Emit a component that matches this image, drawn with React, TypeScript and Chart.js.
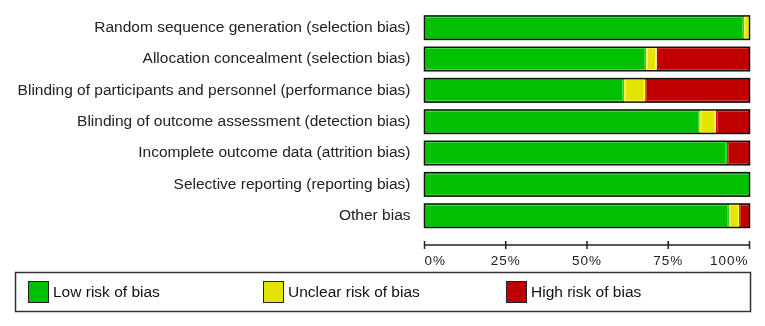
import React, { useEffect, useRef } from "react";
import { Chart, registerables } from "chart.js";

Chart.register(...registerables);

const categories = [
  "Random sequence generation (selection bias)",
  "Allocation concealment (selection bias)",
  "Blinding of participants and personnel (performance bias)",
  "Blinding of outcome assessment (detection bias)",
  "Incomplete outcome data (attrition bias)",
  "Selective reporting (reporting bias)",
  "Other bias",
];

const lowRisk = [98.3, 68.2, 61.4, 84.7, 93.1, 100, 93.7];
const unclearRisk = [1.7, 3.2, 6.5, 5.0, 0, 0, 3.1];
const highRisk = [0, 28.6, 32.1, 10.3, 6.9, 0, 3.2];

const seriesNames = ["Low risk of bias", "Unclear risk of bias", "High risk of bias"];
const tickValues = [0, 25, 50, 75, 100];
const tickLabels = ["0%", "25%", "50%", "75%", "100%"];

const FILL = ["rgb(0,192,0)", "rgb(228,228,0)", "rgb(192,0,0)"];
const EDGE = ["rgb(40,215,40)", "rgb(250,250,60)", "rgb(200,10,10)"];
const FONT = "Liberation Sans, Arial, sans-serif";

const nz = (a: number[]) => a.map((v) => (v === 0 ? null : v));

const customPlugin = {
  id: "robCustom",
  afterDatasetsDraw(chart: any) {
    const ctx = chart.ctx;
    const n = chart.data.labels.length;
    const metas = chart.data.datasets.map((_: any, i: number) => chart.getDatasetMeta(i));
    ctx.save();
    ctx.strokeStyle = "#111";
    ctx.lineWidth = 1.5;
    for (let i = 0; i < n; i++) {
      let left = Infinity, right = -Infinity, top = 0, h = 0;
      metas.forEach((m: any) => {
        const el = m.data[i];
        if (!el || el.skip) return;
        const p = el.getProps(["x", "y", "base", "height"], true);
        if (p.x == null || isNaN(p.x)) return;
        left = Math.min(left, p.base, p.x);
        right = Math.max(right, p.base, p.x);
        top = p.y - p.height / 2;
        h = p.height;
      });
      if (isFinite(left)) ctx.strokeRect(left, top, right - left, h);
    }
    ctx.restore();
  },
  afterDraw(chart: any) {
    const ctx = chart.ctx;
    const xs = chart.scales.x;
    const axisY = 245;
    ctx.save();
    ctx.strokeStyle = "#222";
    ctx.lineWidth = 1.5;
    ctx.beginPath();
    ctx.moveTo(xs.getPixelForValue(tickValues[0]), axisY);
    ctx.lineTo(xs.getPixelForValue(tickValues[tickValues.length - 1]), axisY);
    ctx.stroke();
    ctx.fillStyle = "#222";
    ctx.font = `13.5px ${FONT}`;
    ctx.textBaseline = "middle";
    try { (ctx as any).letterSpacing = "1px"; } catch (e) {}
    tickValues.forEach((v, i) => {
      const px = xs.getPixelForValue(v);
      ctx.beginPath();
      ctx.moveTo(px, axisY - 4);
      ctx.lineTo(px, axisY + 4);
      ctx.stroke();
      let align: CanvasTextAlign = "center";
      let tx = px;
      if (i === 0) { align = "left"; tx = px; }
      else if (i === tickValues.length - 1) { align = "right"; tx = px - 1; }
      ctx.textAlign = align;
      ctx.fillText(tickLabels[i], tx, axisY + 16);
    });
    try { (ctx as any).letterSpacing = "0px"; } catch (e) {}
    ctx.strokeStyle = "#333";
    ctx.lineWidth = 1.5;
    ctx.strokeRect(15.5, 272.5, 735, 39);
    const sx = [28, 263, 506];
    ctx.font = `15.5px ${FONT}`;
    ctx.textAlign = "left";
    ctx.textBaseline = "middle";
    chart.data.datasets.forEach((ds: any, i: number) => {
      ctx.fillStyle = ds.backgroundColor;
      ctx.fillRect(sx[i], 281, 20, 21);
      ctx.strokeStyle = "#222";
      ctx.lineWidth = 1;
      ctx.strokeRect(sx[i] + 0.5, 281.5, 20, 21);
      ctx.fillStyle = "#111";
      ctx.fillText(ds.label, sx[i] + 25, 293);
    });
    ctx.restore();
  },
};

export default function App() {
  const ref = useRef<HTMLCanvasElement | null>(null);
  useEffect(() => {
    if (!ref.current) return;
    const series = [lowRisk, unclearRisk, highRisk];
    const chart = new Chart(ref.current, {
      type: "bar",
      data: {
        labels: categories,
        datasets: series.map((s, i) => ({
          label: seriesNames[i],
          data: nz(s) as any,
          backgroundColor: FILL[i],
          borderColor: EDGE[i],
          borderWidth: 1.5,
          borderSkipped: false,
          barPercentage: 0.75,
          categoryPercentage: 1,
        })),
      },
      options: {
        indexAxis: "y",
        animation: false,
        responsive: true,
        maintainAspectRatio: false,
        layout: { padding: { top: 12, bottom: 94.6, right: 15.5, left: 0 } },
        plugins: { legend: { display: false }, tooltip: { enabled: false } },
        scales: {
          x: { stacked: true, min: 0, max: 100, display: false },
          y: {
            stacked: true,
            grid: { display: false, drawTicks: false },
            border: { display: false },
            ticks: {
              padding: 14,
              color: "#222",
              font: { family: FONT, size: 15.5 },
            },
            afterFit: (scale: any) => {
              scale.width = 424.5;
              scale.paddingTop = 0;
              scale.paddingBottom = 0;
            },
          },
        },
      },
      plugins: [customPlugin],
    });
    return () => chart.destroy();
  }, []);
  return (
    <div style={{ position: "fixed", left: 0, top: 0, width: 765, height: 326, background: "#fff" }}>
      <canvas ref={ref} />
    </div>
  );
}
